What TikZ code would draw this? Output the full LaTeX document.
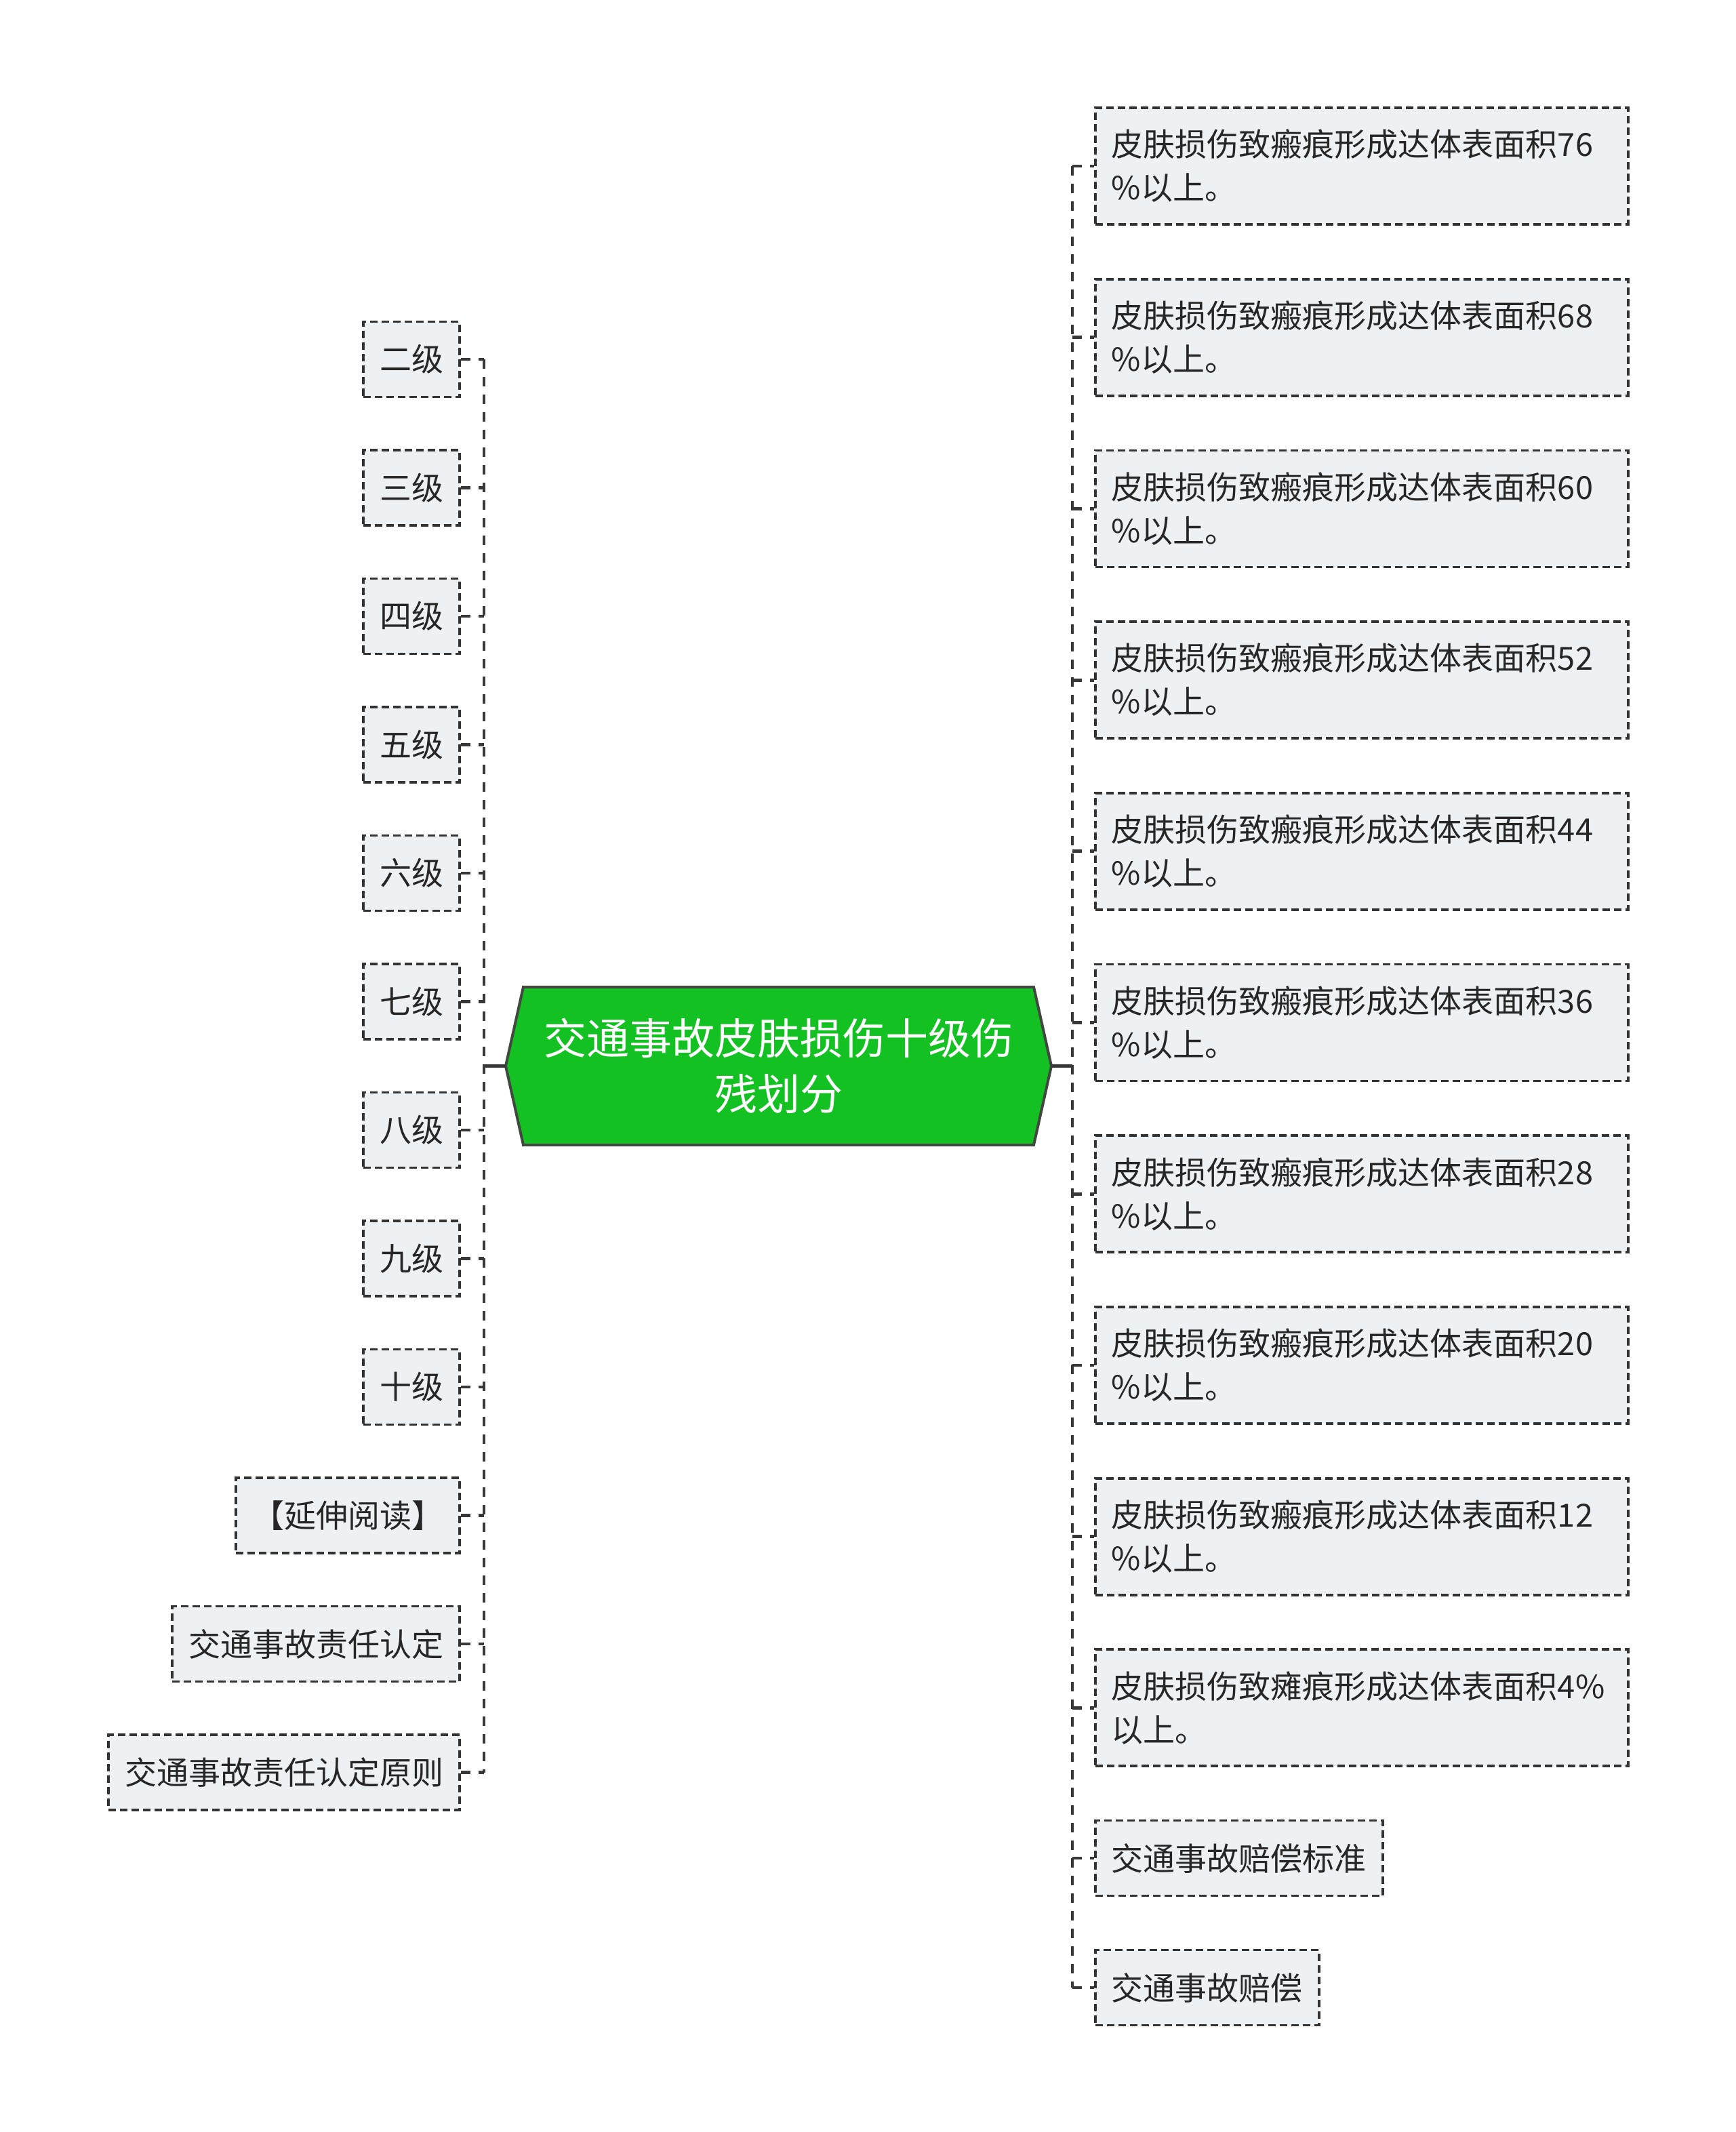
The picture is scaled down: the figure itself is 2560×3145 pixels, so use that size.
\documentclass[tikz,border=0pt]{standalone}
\usepackage{fontspec}
\setmainfont{Noto Sans CJK SC}
\definecolor{linec}{HTML}{333333}
\definecolor{connc}{HTML}{383838}
\definecolor{leaffill}{HTML}{EEF1F4}
\definecolor{textc}{HTML}{262626}
\definecolor{rootfill}{RGB}{20,193,34}
\definecolor{rootline}{HTML}{404840}
\begin{document}
\begin{tikzpicture}[x=1pt,y=-1pt,
  leaf/.style={draw=linec, line width=3.8pt, dash pattern=on 11pt off 6pt, fill=leaffill, text=textc,
    font=\fontsize{47}{64}\selectfont, inner xsep=24pt, inner ysep=0pt, minimum height=111pt},
  wide/.style={leaf, text width=738pt, align=left, minimum height=172pt, anchor=west},
  lft/.style={leaf, anchor=east},
  rgt/.style={leaf, anchor=west},
  conn/.style={draw=connc, line width=4.8pt, dash pattern=on 14pt off 12pt},
  solidconn/.style={draw=connc, line width=4.8pt},
]
\fill[white] (0,0) rectangle (2560,3145);
\useasboundingbox (0,0) rectangle (2560,3145);

% trunks
\coordinate (LT) at (714,0);
\coordinate (RT) at (1582,0);

% root
\coordinate (cW) at (746,1572.5);
\coordinate (cE) at (1551,1572.5);
\draw[fill=rootfill, draw=rootline, line width=4pt, line join=miter]
  (cW) -- (772,1456) -- (1525,1456) -- (cE) -- (1525,1689) -- (772,1689) -- cycle;
\node[text=white, font=\fontsize{63}{82}\selectfont, align=center, inner sep=0pt] (root) at (1148.5,1572.5)
  {交通事故皮肤损伤十级伤\\残划分};

% left nodes
\node[lft] (l1) at (680,530) {二级};
\node[lft] (l2) at (680,719.5) {三级};
\node[lft] (l3) at (680,909) {四级};
\node[lft] (l4) at (680,1098.5) {五级};
\node[lft] (l5) at (680,1288) {六级};
\node[lft] (l6) at (680,1477.5) {七级};
\node[lft] (l7) at (680,1667) {八级};
\node[lft] (l8) at (680,1856.5) {九级};
\node[lft] (l9) at (680,2046) {十级};
\node[lft] (l10) at (680,2235.5) {【延伸阅读】};
\node[lft] (l11) at (680,2425) {交通事故责任认定};
\node[lft] (l12) at (680,2614.5) {交通事故责任认定原则};

% right nodes
\node[wide] (r1) at (1614,245) {皮肤损伤致瘢痕形成达体表面积76\\\%以上。};
\node[wide] (r2) at (1614,497.7) {皮肤损伤致瘢痕形成达体表面积68\\\%以上。};
\node[wide] (r3) at (1614,750.4) {皮肤损伤致瘢痕形成达体表面积60\\\%以上。};
\node[wide] (r4) at (1614,1003.1) {皮肤损伤致瘢痕形成达体表面积52\\\%以上。};
\node[wide] (r5) at (1614,1255.8) {皮肤损伤致瘢痕形成达体表面积44\\\%以上。};
\node[wide] (r6) at (1614,1508.5) {皮肤损伤致瘢痕形成达体表面积36\\\%以上。};
\node[wide] (r7) at (1614,1761.2) {皮肤损伤致瘢痕形成达体表面积28\\\%以上。};
\node[wide] (r8) at (1614,2013.9) {皮肤损伤致瘢痕形成达体表面积20\\\%以上。};
\node[wide] (r9) at (1614,2266.6) {皮肤损伤致瘢痕形成达体表面积12\\\%以上。};
\node[wide] (r10) at (1614,2519.3) {皮肤损伤致瘫痕形成达体表面积4\%\\以上。};
\node[rgt] (r11) at (1614,2741) {交通事故赔偿标准};
\node[rgt] (r12) at (1614,2932) {交通事故赔偿};

% connectors
\draw[solidconn] (cW) -- (cW -| LT);
\draw[solidconn] (cE) -- (cE -| RT);
\draw[conn] (l1.east -| LT) -- (l12.east -| LT);
\draw[conn] (r1.west -| RT) -- (r12.west -| RT);
\foreach \n in {l1,l2,l3,l4,l5,l6,l7,l8,l9,l10,l11,l12}
  \draw[conn] (\n.east) -- (\n.east -| LT);
\foreach \n in {r1,r2,r3,r4,r5,r6,r7,r8,r9,r10,r11,r12}
  \draw[conn] (\n.west -| RT) -- (\n.west);
\end{tikzpicture}
\end{document}
